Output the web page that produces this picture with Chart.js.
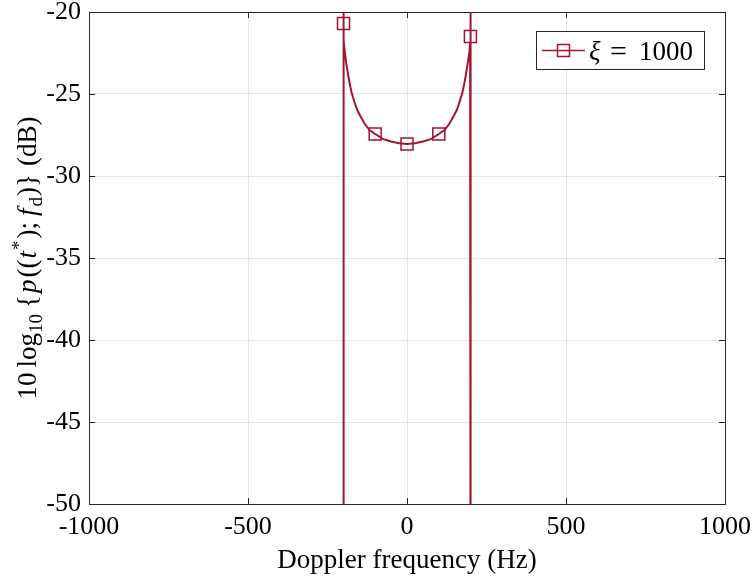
<!DOCTYPE html>
<html>
<head>
<meta charset="utf-8">
<script src="https://cdn.jsdelivr.net/npm/chart.js@4.4.0/dist/chart.umd.min.js"></script>
<style>
  html, body { margin: 0; padding: 0; background: #fff; }
  #wrap { width: 753px; height: 581px; }
</style>
</head>
<body>
<div id="wrap"><canvas id="chart"></canvas></div>
<script>
// Doppler spectrum (xi = 1000)
const freqHz = [
  -200.5, -200, -199.6, -198.5, -196.5, -192, -188, -181, -173.6, -165, -156.6,
  -145, -133.6, -118, -100, -75, -50, -25, 0,
  25, 50, 75, 100, 118, 133.6, 145, 156.6, 165, 173.6, 181, 188, 192, 196.5,
  198.5, 199.4, 200, 200.5
];
const powerDb = [
  -60, -12, -20.7, -21.7, -22.3, -23.0, -23.5, -24.3, -24.96, -25.5, -25.98,
  -26.4, -26.8, -27.2, -27.44, -27.75, -27.9, -28.0, -28.05,
  -28.0, -27.9, -27.75, -27.44, -27.2, -26.8, -26.4, -25.98, -25.5, -24.96, -24.3, -23.5, -23.0, -22.4,
  -21.9, -21.5, -12, -60
];
const markerFreqs = [-199.6, -100, 0, 100, 199.4];
const seriesLabel = ['ξ', '=', '1000'];
const xTicks = [-1000, -500, 0, 500, 1000];
const yTicks = [-50, -45, -40, -35, -30, -25, -20];

const lineColor = '#A2142F';
const axisColor = '#262626';
const serif = '"Liberation Serif", "Times New Roman", serif';

// Box around the plot with inward tick marks, like MATLAB
const boxPlugin = {
  id: 'box',
  beforeDatasetsDraw(chart) {
    const { ctx, chartArea: a, scales } = chart;
    ctx.save();
    ctx.strokeStyle = axisColor;
    ctx.lineWidth = 1;
    ctx.strokeRect(a.left + 0.5, a.top + 0.5, a.right - a.left, a.bottom - a.top);
    const len = 6;
    ctx.beginPath();
    xTicks.forEach(v => {
      const x = Math.round(scales.x.getPixelForValue(v)) + 0.5;
      ctx.moveTo(x, a.bottom); ctx.lineTo(x, a.bottom - len);
      ctx.moveTo(x, a.top); ctx.lineTo(x, a.top + len);
    });
    yTicks.forEach(v => {
      const y = Math.round(scales.y.getPixelForValue(v)) + 0.5;
      ctx.moveTo(a.left, y); ctx.lineTo(a.left + len, y);
      ctx.moveTo(a.right, y); ctx.lineTo(a.right - len, y);
    });
    ctx.stroke();
    ctx.restore();
  }
};

// Legend box with line + square marker
const legendPlugin = {
  id: 'mlegend',
  afterDraw(chart) {
    const { ctx } = chart;
    const bx = 536, by = 31, bw = 168, bh = 38;
    ctx.save();
    ctx.fillStyle = '#fff';
    ctx.fillRect(bx, by, bw, bh);
    ctx.strokeStyle = axisColor;
    ctx.lineWidth = 1;
    ctx.strokeRect(bx + 0.5, by + 0.5, bw, bh);
    const cy = by + bh / 2 + 0.5;
    ctx.strokeStyle = lineColor;
    ctx.lineWidth = 1.5;
    ctx.beginPath();
    ctx.moveTo(542, cy); ctx.lineTo(585, cy);
    ctx.stroke();
    ctx.strokeRect(563.5 - 6, cy - 6, 12, 12);
    ctx.fillStyle = '#000';
    ctx.textBaseline = 'alphabetic';
    const base = cy + 9;
    ctx.font = 'italic 27px ' + serif;
    ctx.fillText(seriesLabel[0], 589, base);
    ctx.font = '30px ' + serif;
    ctx.fillText(seriesLabel[1], 610, base + 1);
    ctx.font = '27px ' + serif;
    ctx.fillText(seriesLabel[2], 639, base);
    ctx.restore();
  }
};

// Rotated y-axis title with math-style pieces
const yTitlePlugin = {
  id: 'ytitle',
  afterDraw(chart) {
    const { ctx, chartArea: a } = chart;
    const size = 27;
    const pieces = [
      { t: '10', f: '', gap: 5 },
      { t: 'log', f: '' },
      { t: '10', f: '', sub: true, gap: 6 },
      { t: '{', f: '', gap: 2 },
      { t: 'p', f: 'italic ', gap: 2 },
      { t: '((', f: '', gap: 1 },
      { t: 't', f: 'italic ', gap: 1 },
      { t: '*', f: '', sup: true, gap: 2 },
      { t: ');', f: '', gap: 6 },
      { t: 'f', f: 'italic ', gap: 2 },
      { t: 'd', f: '', sub: true, gap: 1 },
      { t: ')}', f: '', gap: 8 },
      { t: '(dB)', f: '' }
    ];
    ctx.save();
    const fontOf = p => p.f + ((p.sub || p.sup) ? Math.round(size * 0.7) : size) + 'px ' + serif;
    let total = 0;
    pieces.forEach(p => {
      ctx.font = fontOf(p);
      p.w = ctx.measureText(p.t).width + (p.gap || 0);
      total += p.w;
    });
    ctx.translate(36, (a.top + a.bottom) / 2);
    ctx.rotate(-Math.PI / 2);
    ctx.fillStyle = '#000';
    ctx.textBaseline = 'alphabetic';
    let x = -total / 2;
    pieces.forEach(p => {
      ctx.font = fontOf(p);
      const dy = p.sub ? 6 : (p.sup ? -11 : 0);
      ctx.fillText(p.t, x, dy);
      x += p.w;
    });
    ctx.restore();
  }
};

const points = freqHz.map((f, i) => ({ x: f, y: powerDb[i] }));

new Chart(document.getElementById('chart'), {
  type: 'line',
  data: {
    datasets: [{
      label: seriesLabel.join(' '),
      data: points,
      borderColor: lineColor,
      borderWidth: 2,
      tension: 0,
      pointStyle: 'rect',
      pointRadius: ctx => markerFreqs.includes(freqHz[ctx.dataIndex]) ? 8.5 : 0,
      pointBorderWidth: 1.5,
      pointBorderColor: lineColor,
      pointBackgroundColor: 'rgba(0,0,0,0)',
      pointHoverRadius: 0
    }]
  },
  options: {
    responsive: true,
    maintainAspectRatio: false,
    animation: false,
    layout: { padding: { left: 0, top: 12, right: 28, bottom: 0 } },
    plugins: {
      legend: { display: false },
      tooltip: { enabled: false }
    },
    scales: {
      x: {
        type: 'linear',
        min: -1000,
        max: 1000,
        afterBuildTicks: s => { s.ticks = xTicks.map(v => ({ value: v })); },
        afterFit: s => { s.height = 77; s.paddingLeft = 0; s.paddingRight = 0; },
        grid: { color: 'rgba(0,0,0,0.1)', drawTicks: false },
        border: { display: false },
        ticks: {
          color: '#000', padding: 8, maxRotation: 0,
          font: { family: serif, size: 26 },
          callback: v => String(v)
        },
        title: {
          display: true,
          text: 'Doppler frequency (Hz)',
          color: '#000',
          padding: { top: 0, bottom: 4 },
          font: { family: serif, size: 27 }
        }
      },
      y: {
        min: -50,
        max: -20,
        afterBuildTicks: s => { s.ticks = yTicks.map(v => ({ value: v })); },
        afterFit: s => { s.width = 89; s.paddingTop = 0; s.paddingBottom = 0; },
        grid: { color: 'rgba(0,0,0,0.1)', drawTicks: false },
        border: { display: false },
        ticks: {
          color: '#000', padding: 8,
          font: { family: serif, size: 26 },
          callback: v => String(v)
        }
      }
    }
  },
  plugins: [boxPlugin, legendPlugin, yTitlePlugin]
});
</script>
</body>
</html>
